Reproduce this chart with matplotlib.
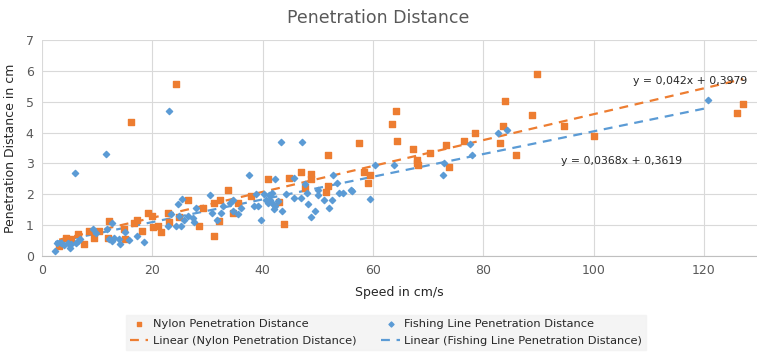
import numpy as np
import matplotlib.pyplot as plt

# Nylon points (speed cm/s, penetration cm)
nylon_x = [3.1, 4.4, 5.2, 6.5, 7.7, 8.6, 9.5, 10.4, 12.2, 11.9, 14.9, 15.1, 16.1, 16.7, 17.2,
           18.1, 19.2, 19.9, 20.2, 21.0, 21.6, 22.8, 23.1, 24.3, 24.8, 26.4, 28.5, 29.2, 31.1,
           31.2, 32.0, 32.2, 33.7, 34.6, 35.6, 37.9, 40.9, 43.0, 43.9, 44.8, 47.0, 47.6, 48.8,
           48.8, 51.8, 51.4, 51.8, 57.4, 58.4, 59.0, 59.5, 63.4, 64.2, 64.4, 67.3, 67.9, 67.9,
           68.2, 70.3, 73.2, 73.8, 76.4, 78.4, 83.1, 83.6, 83.9, 85.9, 88.8, 89.7, 94.7, 100.1,
           125.9, 127.1]
nylon_y = [0.32, 0.59, 0.55, 0.70, 0.38, 0.80, 0.59, 0.80, 1.13, 0.59, 0.86, 0.54, 4.36, 1.08, 1.18,
           0.81, 1.40, 1.29, 0.95, 0.97, 0.79, 1.38, 1.11, 5.57, 1.26, 1.83, 0.97, 1.56, 1.72,
           0.65, 1.13, 1.83, 2.15, 1.40, 1.72, 1.94, 2.48, 1.75, 1.04, 2.53, 2.71, 2.20, 2.67,
           2.48, 3.28, 2.07, 2.26, 3.66, 2.71, 2.37, 2.62, 4.29, 4.69, 3.72, 3.46, 3.12, 3.03,
           2.96, 3.35, 3.61, 2.89, 3.73, 3.99, 3.67, 4.20, 5.01, 3.28, 4.56, 5.90, 4.23, 3.88,
           4.63, 4.93]

# Fishing line points
fish_x = [2.4, 2.7, 3.4, 4.0, 4.7, 5.0, 5.3, 6.0, 6.2, 6.5, 6.8, 9.3, 9.8, 11.6, 11.7, 12.2,
          12.7, 12.7, 13.1, 14.0, 14.2, 15.1, 15.8, 17.3, 18.5, 23.1, 22.8, 23.4, 24.3, 24.6,
          24.9, 25.2, 25.4, 25.8, 26.4, 27.3, 27.6, 27.9, 30.5, 30.9, 31.8, 32.5, 32.8, 34.0,
          34.6, 34.7, 35.6, 36.1, 37.5, 38.5, 38.8, 39.1, 39.7, 40.2, 40.6, 40.9, 41.2, 41.4,
          41.7, 41.8, 42.0, 42.3, 42.7, 43.3, 43.5, 42.2, 44.2, 45.6, 45.7, 47.0, 47.2, 47.7,
          48.0, 48.3, 48.8, 49.5, 50.0, 50.0, 51.2, 52.1, 52.5, 52.7, 53.4, 53.8, 54.5, 56.0,
          56.1, 59.5, 60.4, 63.8, 72.9, 72.7, 77.5, 77.9, 82.6, 84.2, 120.8]
fish_y = [0.16, 0.43, 0.43, 0.34, 0.43, 0.27, 0.38, 2.69, 0.43, 0.48, 0.54, 0.88, 0.75, 3.30, 0.86, 0.54,
          1.08, 0.48, 0.59, 0.54, 0.40, 0.78, 0.52, 0.65, 0.46, 4.70, 0.97, 1.35, 0.97, 1.67,
          1.29, 0.97, 1.85, 1.18, 1.29, 1.24, 1.10, 1.56, 1.99, 1.40, 1.18, 1.40, 1.61, 1.72,
          1.81, 1.45, 1.37, 1.56, 2.62, 1.61, 2.01, 1.61, 1.18, 2.01, 1.81, 1.72, 1.97, 1.81,
          2.05, 1.67, 1.51, 1.61, 1.78, 3.71, 1.47, 2.48, 2.02, 2.53, 1.88, 1.88, 3.68, 2.34,
          2.05, 1.67, 1.26, 1.45, 2.15, 1.97, 1.83, 1.56, 1.83, 2.64, 2.37, 2.05, 2.05, 2.15,
          2.12, 1.86, 2.96, 2.94, 3.03, 2.64, 3.64, 3.26, 3.99, 4.07, 5.06]

# trendline coefficients shown on the chart
nylon_fit = (0.042, 0.3979)
fish_fit = (0.0368, 0.3619)

orange = '#ED7D31'
blue = '#5B9BD5'
grey = '#595959'

fig = plt.figure(figsize=(7.57, 3.55), dpi=100)
ax = fig.add_axes([0.0555, 0.279, 0.9445, 0.608])

ax.scatter(nylon_x, nylon_y, marker='s', s=14, color=orange, zorder=3,
           label='Nylon Penetration Distance')
ax.scatter(fish_x, fish_y, marker='D', s=10, color=blue, zorder=3,
           label='Fishing Line Penetration Distance')

xs = np.array([min(nylon_x), max(nylon_x)])
ax.plot(xs, nylon_fit[0] * xs + nylon_fit[1], '--', color=orange, lw=1.6, dashes=(4, 3),
        zorder=2, label='Linear (Nylon Penetration Distance)')
xs = np.array([min(fish_x), max(fish_x)])
ax.plot(xs, fish_fit[0] * xs + fish_fit[1], '--', color=blue, lw=1.6, dashes=(4, 3),
        zorder=2, label='Linear (Fishing Line Penetration Distance)')

ax.text(117.5, 5.69, 'y = 0,042x + 0,3979', fontsize=7.8, ha='center', va='center', color='#262626')
ax.text(105, 3.07, 'y = 0,0368x + 0,3619', fontsize=7.8, ha='center', va='center', color='#262626')

ax.set_xlim(0, 129.6)
ax.set_ylim(0, 7)
ax.set_xticks(range(0, 121, 20))
ax.set_yticks(range(0, 8))
ax.grid(True, color='#d9d9d9', lw=0.8)
ax.set_axisbelow(True)
for s in ['top', 'right', 'left']:
    ax.spines[s].set_visible(False)
ax.spines['bottom'].set_color('#bfbfbf')
ax.tick_params(length=0, labelsize=9, colors=grey, pad=6)

ax.set_xlabel('Speed in cm/s', fontsize=9, color='#262626', labelpad=6)
ax.set_ylabel('Penetration Distance in cm', fontsize=9, color='#262626', labelpad=6)
fig.suptitle('Penetration Distance', fontsize=12.5, color=grey, y=0.975)

h, l = ax.get_legend_handles_labels()
order = [0, 2, 1, 3]
leg = fig.legend([h[i] for i in order], [l[i] for i in order], ncol=2,
                 loc='center', bbox_to_anchor=(0.51, 0.063), frameon=True,
                 fontsize=8.2, handlelength=1.6, columnspacing=2.2, handletextpad=0.4,
                 labelspacing=0.6, borderpad=0.35, scatterpoints=1, markerscale=0.8)
leg.get_frame().set_facecolor('#f2f2f2')
leg.get_frame().set_edgecolor('#f2f2f2')
leg.get_frame().set_boxstyle('square', pad=0)
for t in leg.get_texts():
    t.set_color('#262626')

fig.savefig('out.png', dpi=100)
